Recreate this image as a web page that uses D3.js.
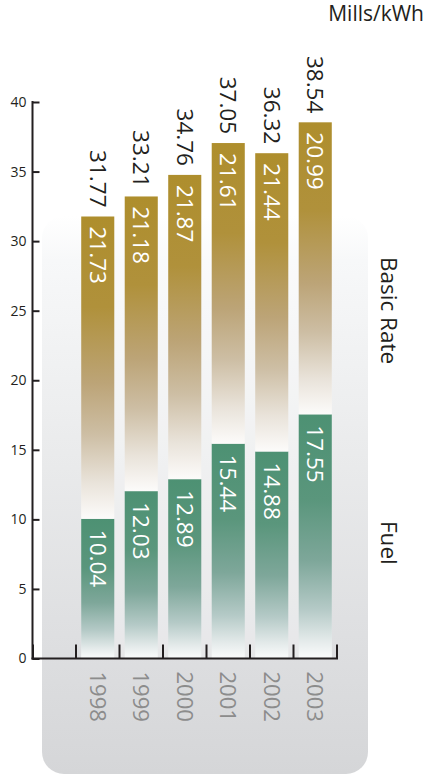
<!DOCTYPE html>
<html>
<head>
<meta charset="utf-8">
<script src="https://cdn.jsdelivr.net/npm/d3@7"></script>
<style>
  html, body { margin: 0; padding: 0; background: #ffffff; }
  svg { display: block; }
  text { font-family: "Open Sans", "Noto Sans", sans-serif; }
</style>
</head>
<body>
<script>
// Electricity price components, mills per kWh
const years = ["1998", "1999", "2000", "2001", "2002", "2003"];
const fuel = [10.04, 12.03, 12.89, 15.44, 14.88, 17.55];
const basicRate = [21.73, 21.18, 21.87, 21.61, 21.44, 20.99];
const totals = [31.77, 33.21, 34.76, 37.05, 36.32, 38.54];
const yTicks = [0, 5, 10, 15, 20, 25, 30, 35, 40];
const seriesNames = ["Basic Rate", "Fuel"];
const unitLabel = "Mills/kWh";

const W = 428, H = 774;
const svg = d3.select("body").append("svg").attr("width", W).attr("height", H);
const defs = svg.append("defs");

function vGrad(id, stops) {
  const g = defs.append("linearGradient").attr("id", id)
    .attr("x1", 0).attr("y1", 0).attr("x2", 0).attr("y2", 1);
  stops.forEach(([o, c]) => g.append("stop").attr("offset", o).attr("stop-color", c));
}
vGrad("panelGrad", [[0, "#ffffff"], [0.08, "#f7f8f9"], [0.45, "#e9eaeb"], [0.75, "#dedfe1"], [1, "#d5d6d8"]]);
vGrad("basicGrad", [[0, "#ae8e2d"], [0.3, "#b0913b"], [0.55, "#bca477"], [0.72, "#cdbea4"], [0.88, "#e9e3da"], [1, "#fcfbfa"]]);
vGrad("fuelGrad", [[0, "#4d9173"], [0.35, "#5a967c"], [0.6, "#7ea79a"], [0.8, "#b5cac7"], [0.93, "#e5ebeb"], [1, "#fbfcfc"]]);

// scales
const y = d3.scaleLinear().domain([0, 40]).range([658.5, 102]);
const x = d3.scaleBand().domain(years).range([76, 337]).paddingInner(0.24).paddingOuter(0.12);
const axisLeftX = 32.5;

// background panel
svg.append("rect")
  .attr("x", 42).attr("y", 216).attr("width", 326).attr("height", 558)
  .attr("rx", 22).attr("fill", "url(#panelGrad)");

// lighter strip behind the bar group
svg.append("rect")
  .attr("x", x(years[0])).attr("y", y(40))
  .attr("width", x(years[years.length - 1]) + x.bandwidth() - x(years[0]))
  .attr("height", y(0) - y(40))
  .attr("fill", "#ffffff").attr("opacity", 0.3);

const g = svg.append("g");

// fuel segments
g.selectAll("rect.fuel").data(years).join("rect")
  .attr("class", "fuel")
  .attr("x", d => x(d)).attr("width", x.bandwidth())
  .attr("y", (d, i) => y(fuel[i]))
  .attr("height", (d, i) => y(0) - y(fuel[i]))
  .attr("fill", "url(#fuelGrad)");

// basic rate segments stacked on fuel
g.selectAll("rect.basic").data(years).join("rect")
  .attr("class", "basic")
  .attr("x", d => x(d)).attr("width", x.bandwidth())
  .attr("y", (d, i) => y(fuel[i] + basicRate[i]))
  .attr("height", (d, i) => y(fuel[i]) - y(fuel[i] + basicRate[i]))
  .attr("fill", "url(#basicGrad)");

const cx = d => x(d) + x.bandwidth() / 2;
const fs = 22.5;

// rotated labels reading downward
function rotLabel(sel, px, py, anchor) {
  sel.attr("transform", (d, i) => `translate(${px(d, i)},${py(d, i)}) rotate(90)`)
    .attr("text-anchor", anchor)
    .attr("dy", "0.36em");
}
g.selectAll("text.bv").data(years).join("text")
  .attr("class", "bv").attr("fill", "#ffffff").attr("font-size", fs)
  .call(rotLabel, d => cx(d), (d, i) => y(fuel[i] + basicRate[i]) + 10, "start")
  .text((d, i) => basicRate[i].toFixed(2));
g.selectAll("text.fv").data(years).join("text")
  .attr("class", "fv").attr("fill", "#ffffff").attr("font-size", fs)
  .call(rotLabel, d => cx(d), (d, i) => y(fuel[i]) + 11, "start")
  .text((d, i) => fuel[i].toFixed(2));

// totals above bars
g.selectAll("text.tv").data(years).join("text")
  .attr("class", "tv").attr("fill", "#231f20").attr("font-size", fs)
  .call(rotLabel, d => cx(d), (d, i) => y(totals[i]) - 9, "end")
  .text((d, i) => totals[i].toFixed(2));

// year labels below the axis
g.selectAll("text.yr").data(years).join("text")
  .attr("class", "yr").attr("fill", "#8c8c8c").attr("font-size", 22)
  .call(rotLabel, d => cx(d), () => y(0) + 13, "start")
  .text(d => d);

// y axis with inward ticks
const yAxis = d3.axisLeft(y).tickValues(yTicks).tickSizeInner(-7).tickSizeOuter(0).tickPadding(6);
const ya = svg.append("g").attr("transform", `translate(${axisLeftX},0)`).call(yAxis);
ya.select(".domain").remove();
ya.selectAll(".tick line").attr("stroke", "#231f20").attr("stroke-width", 2);
ya.selectAll(".tick text").attr("font-size", 14).attr("fill", "#231f20")
  .attr("font-family", "'Open Sans', sans-serif");
svg.append("line")
  .attr("x1", axisLeftX).attr("x2", axisLeftX).attr("y1", y(40) - 1).attr("y2", y(0) + 1)
  .attr("stroke", "#231f20").attr("stroke-width", 2);

// x axis baseline with upward ticks at band boundaries
const step = x.step();
const xEnd = x(years[years.length - 1]) + x.bandwidth() + step * 0.12;
const boundaries = [axisLeftX + 0.5].concat(years.map(d => x(d) - step * 0.12), [xEnd]);
svg.append("line")
  .attr("x1", axisLeftX - 1).attr("x2", xEnd + 1).attr("y1", y(0)).attr("y2", y(0))
  .attr("stroke", "#231f20").attr("stroke-width", 2);
svg.selectAll("line.xt").data(boundaries).join("line")
  .attr("class", "xt")
  .attr("x1", d => d).attr("x2", d => d).attr("y1", y(0)).attr("y2", y(0) - 14)
  .attr("stroke", "#231f20").attr("stroke-width", 2);

// series names on the right
const nameY = [257, 521];
svg.selectAll("text.sn").data(seriesNames).join("text")
  .attr("class", "sn").attr("fill", "#231f20").attr("font-size", 22.5)
  .call(rotLabel, () => 389, (d, i) => nameY[i], "start")
  .text(d => d);

// unit label
svg.append("text")
  .attr("x", 424).attr("y", 21).attr("text-anchor", "end")
  .attr("font-size", 21).attr("fill", "#231f20")
  .text(unitLabel);
</script>
</body>
</html>
